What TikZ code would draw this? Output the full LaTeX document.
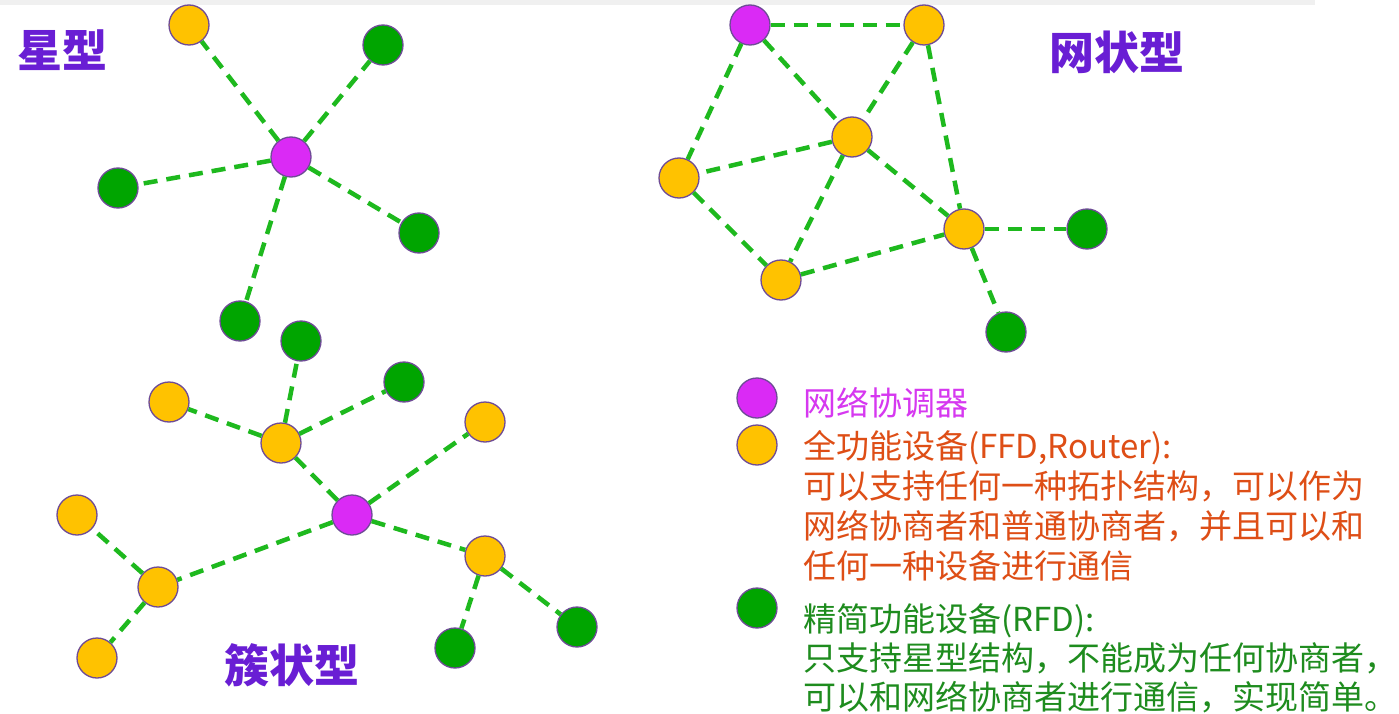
\documentclass[tikz,border=0pt]{standalone}
\usepackage{fontspec}
\newfontfamily\cjk{Noto Sans CJK SC}
\definecolor{nodeora}{RGB}{255,194,0}
\definecolor{nodegrn}{RGB}{0,165,0}
\definecolor{nodemag}{RGB}{218,42,245}
\definecolor{nodeedge}{RGB}{110,75,150}
\definecolor{linkgrn}{RGB}{30,185,30}
\definecolor{titlepur}{RGB}{105,30,212}
\definecolor{txtmag}{RGB}{214,56,240}
\definecolor{txtora}{RGB}{222,78,22}
\definecolor{txtgrn}{RGB}{30,140,30}
\tikzset{
  dev/.style={circle,minimum size=40pt,inner sep=0pt,draw=nodeedge,line width=1.3pt},
  ora/.style={dev,fill=nodeora},
  grn/.style={dev,fill=nodegrn},
  mag/.style={dev,fill=nodemag},
  link/.style={draw=linkgrn,line width=4.5pt,dash pattern=on 14pt off 9pt},
  ttl/.style={inner sep=0pt,text=titlepur,font=\cjk\bfseries\fontsize{45}{50}\selectfont},
  legtext/.style={anchor=base west,inner sep=0pt,font=\cjk\fontsize{33}{40}\selectfont}
}
\begin{document}
\begin{tikzpicture}[x=1pt,y=-1pt]
\useasboundingbox (0,0) rectangle (1399,714);
\fill[white] (0,0) rectangle (1399,714);
\fill[black!6] (0,0) rectangle (1315,5);
% ---------- star ----------
\node[mag] (sc) at (291,157) {};
\node[ora] (s1) at (189,25) {};
\node[grn] (s2) at (383,45) {};
\node[grn] (s3) at (118,188) {};
\node[grn] (s4) at (419,233) {};
\node[grn] (s5) at (240,321) {};
\foreach \n in {s1,s2,s3,s4,s5} \draw[link] (sc) -- (\n);
\node[ttl] (t1) at (62,50) {星型};
% ---------- mesh ----------
\node[mag] (m0) at (750,25) {};
\node[ora] (m1) at (924,25) {};
\node[ora] (m2) at (852,137) {};
\node[ora] (m3) at (679,178) {};
\node[ora] (m4) at (964,229) {};
\node[ora] (m5) at (781,280) {};
\node[grn] (m6) at (1087,229) {};
\node[grn] (m7) at (1006,332) {};
\foreach \a/\b in {m0/m1,m0/m3,m0/m2,m1/m2,m1/m4,m2/m3,m2/m4,m2/m5,m3/m5,m5/m4,m4/m6,m4/m7}
  \draw[link] (\a) -- (\b);
\node[ttl] (t2) at (1117,52) {网状型};
% ---------- cluster ----------
\node[mag] (c0) at (352,515) {};
\node[ora] (c1) at (281,443) {};
\node[grn] (c2) at (301,341) {};
\node[grn] (c3) at (404,382) {};
\node[ora] (c4) at (169,402) {};
\node[ora] (c5) at (485,422) {};
\node[ora] (c6) at (158,587) {};
\node[ora] (c7) at (77,515) {};
\node[ora] (c8) at (97,658) {};
\node[ora] (c9) at (485,556) {};
\node[grn] (c10) at (455,648) {};
\node[grn] (c11) at (577,627) {};
\foreach \a/\b in {c0/c1,c1/c2,c1/c3,c1/c4,c0/c5,c0/c6,c6/c7,c6/c8,c0/c9,c9/c10,c9/c11}
  \draw[link] (\a) -- (\b);
\node[ttl] (t3) at (292,665) {簇状型};
% ---------- legend ----------
\node[mag] (l1) at (757,398) {};
\node[ora] (l2) at (757,445) {};
\node[grn] (l3) at (757,608) {};
\node[legtext,text=txtmag] (g1) at (803,415) {网络协调器};
\node[legtext,text=txtora] (g2) at (803,458) {全功能设备(FFD,Router):};
\node[legtext,text=txtora] (g3) at (803,498) {可以支持任何一种拓扑结构，可以作为};
\node[legtext,text=txtora] (g4) at (803,538) {网络协商者和普通协商者，并且可以和};
\node[legtext,text=txtora] (g5) at (803,578) {任何一种设备进行通信};
\node[legtext,text=txtgrn] (g6) at (803,631) {精简功能设备(RFD):};
\node[legtext,text=txtgrn] (g7) at (803,670) {只支持星型结构，不能成为任何协商者，};
\node[legtext,text=txtgrn] (g8) at (803,709) {可以和网络协商者进行通信，实现简单。};
\end{tikzpicture}
\end{document}
